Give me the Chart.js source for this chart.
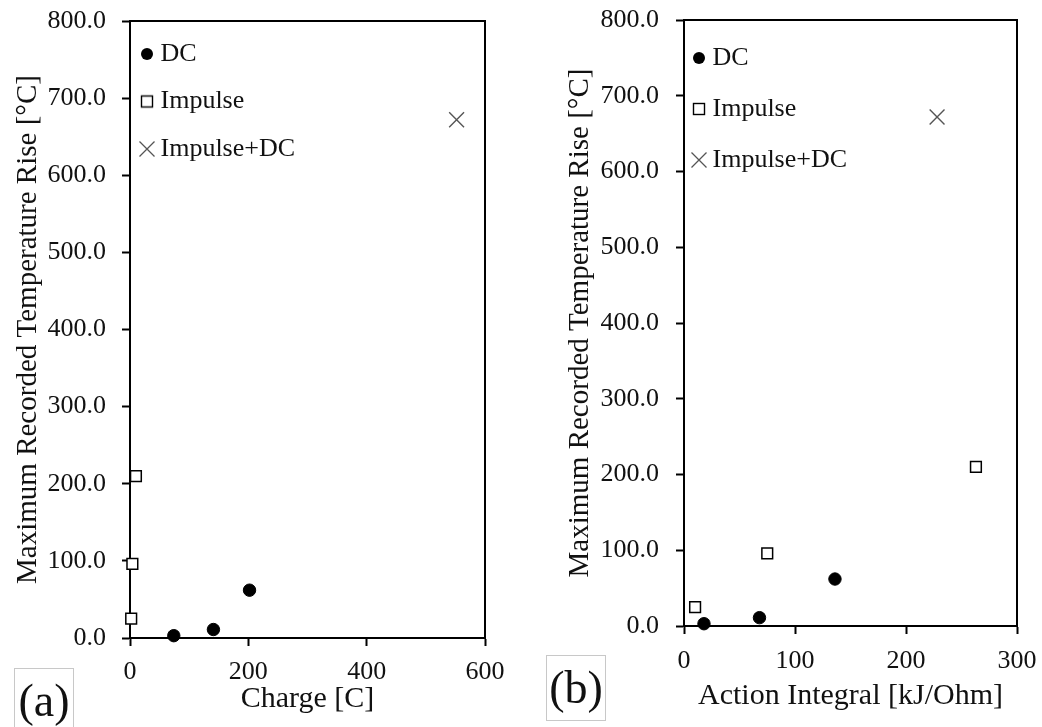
<!DOCTYPE html>
<html>
<head>
<meta charset="utf-8">
<script src="https://cdn.jsdelivr.net/npm/chart.js@4"></script>
<style>
  body { margin: 0; background: #fff; }
  #wrap { position: relative; width: 1042px; height: 727px; overflow: hidden; }
  .panel { position: absolute; top: 0; }
  .tag {
    position: absolute; width: 58px; height: 64px;
    border: 1px solid #c8c8c8;
    font-family: "Liberation Serif", "Times New Roman", serif;
    font-size: 46px; line-height: 64px; text-align: center; color: #111;
  }
</style>
</head>
<body>
<div id="wrap">
  <canvas id="chart-a" class="panel" style="left:0" width="520" height="727"></canvas>
  <canvas id="chart-b" class="panel" style="left:520px" width="522" height="727"></canvas>
  <div class="tag" style="left:14px; top:668px">(a)</div>
  <div class="tag" style="left:546px; top:655px">(b)</div>
</div>
<script>
// temperature rise (same tests in both panels)
const tempDC = [3, 11, 62];
const tempImpulse = [25, 96, 210];
const tempImpulseDC = [672];

// panel (a): charge [C]
const chargeDC = [74, 141, 202];
const chargeImpulse = [2, 4, 10];
const chargeImpulseDC = [552];

// panel (b): action integral [kJ/Ohm]
const actionDC = [18, 68, 136];
const actionImpulse = [10, 75, 263];
const actionImpulseDC = [228];

// tick labels
const tempTicks = [0, 100, 200, 300, 400, 500, 600, 700, 800];
const chargeTicks = [0, 200, 400, 600];
const actionTicks = [0, 100, 200, 300];

const seriesNames = ['DC', 'Impulse', 'Impulse+DC'];
const yTitle = 'Maximum Recorded Temperature Rise [°C]';

Chart.defaults.font.family = '"Liberation Serif", "Times New Roman", serif';
Chart.defaults.color = '#111';

function pairs(xs, ys) {
    return xs.map((x, i) => ({ x: x, y: ys[i] }));
}

// small canvases used as legend symbols (sized like the reference legend)
function legendMarker(kind) {
    const c = document.createElement('canvas');
    c.width = 18; c.height = 18;
    const g = c.getContext('2d');
    if (kind === 'circle') {
        g.fillStyle = '#000';
        g.beginPath();
        g.arc(9, 9, 6, 0, Math.PI * 2);
        g.fill();
    } else if (kind === 'rect') {
        g.fillStyle = '#fff';
        g.strokeStyle = '#000';
        g.lineWidth = 1.4;
        g.fillRect(3.5, 3.5, 11, 11);
        g.strokeRect(3.5, 3.5, 11, 11);
    } else {
        g.strokeStyle = '#555';
        g.lineWidth = 1.3;
        g.beginPath();
        g.moveTo(1.5, 1.5); g.lineTo(16.5, 16.5);
        g.moveTo(16.5, 1.5); g.lineTo(1.5, 16.5);
        g.stroke();
    }
    return c;
}
const legendMarkers = [legendMarker('circle'), legendMarker('rect'), legendMarker('cross')];

// frame on top and right of the plot area
const framePlugin = {
    id: 'frame',
    afterDraw(chart) {
        const { ctx, chartArea: a } = chart;
        ctx.save();
        ctx.strokeStyle = '#000';
        ctx.lineWidth = 2;
        ctx.beginPath();
        ctx.moveTo(a.left, a.top);
        ctx.lineTo(a.right, a.top);
        ctx.lineTo(a.right, a.bottom);
        ctx.stroke();
        ctx.restore();
    }
};

// move the in-plot legend a little
const legendNudge = {
    id: 'legendNudge',
    afterLayout(chart, args, opts) {
        if (!chart.legend) return;
        chart.legend.left -= (opts.dx || 0);
        chart.legend.top -= (opts.dy || 0);
    }
};

function makeChart(id, cfg) {
    const ctx = document.getElementById(id).getContext('2d');
    return new Chart(ctx, {
        type: 'scatter',
        data: {
            datasets: [
                {
                    label: seriesNames[0],
                    data: pairs(cfg.xDC, tempDC),
                    pointStyle: 'circle',
                    pointRadius: 6.2,
                    backgroundColor: '#000',
                    borderColor: '#000',
                    borderWidth: 1,
                    clip: false
                },
                {
                    label: seriesNames[1],
                    data: pairs(cfg.xImp, tempImpulse),
                    pointStyle: 'rect',
                    pointRadius: 7.6,
                    backgroundColor: '#fff',
                    borderColor: '#000',
                    borderWidth: 1.5,
                    clip: false
                },
                {
                    label: seriesNames[2],
                    data: pairs(cfg.xImpDC, tempImpulseDC),
                    pointStyle: 'crossRot',
                    pointRadius: 10.5,
                    backgroundColor: '#555',
                    borderColor: '#555',
                    borderWidth: 1.4,
                    clip: false
                }
            ]
        },
        options: {
            responsive: false,
            animation: false,
            events: [],
            layout: { padding: cfg.padding },
            plugins: {
                tooltip: { enabled: false },
                legend: {
                    position: 'chartArea',
                    align: 'start',
                    labels: {
                        usePointStyle: true,
                        boxWidth: 1,
                        boxHeight: 9,
                        padding: cfg.legendPad,
                        color: '#111',
                        font: { size: 26 },
                        generateLabels: chart =>
                            Chart.defaults.plugins.legend.labels.generateLabels(chart)
                                .map((item, i) => Object.assign(item, { pointStyle: legendMarkers[i], rotation: 0 }))
                    }
                },
                legendNudge: { dx: cfg.legendDx, dy: cfg.legendDy }
            },
            scales: {
                x: {
                    type: 'linear',
                    min: cfg.xTicks[0],
                    max: cfg.xTicks[cfg.xTicks.length - 1],
                    afterBuildTicks: s => { s.ticks = cfg.xTicks.map(v => ({ value: v })); },
                    afterFit: s => {
                        s.height = cfg.xHeight;
                        s.paddingLeft = 0;
                        s.paddingRight = 0;
                    },
                    grid: { display: true, drawOnChartArea: false, tickLength: 8, tickColor: '#000', tickWidth: 2 },
                    border: { color: '#000', width: 2 },
                    ticks: { padding: cfg.xTickPad, font: { size: 26 }, color: '#111', maxRotation: 0 },
                    title: {
                        display: true,
                        text: cfg.xTitle,
                        font: { size: 30 },
                        color: '#111',
                        padding: { top: 0, bottom: cfg.xTitlePad }
                    }
                },
                y: {
                    type: 'linear',
                    min: 0,
                    max: 800,
                    afterBuildTicks: s => { s.ticks = tempTicks.map(v => ({ value: v })); },
                    afterFit: s => {
                        s.width = cfg.yWidth;
                        s.paddingTop = 0;
                        s.paddingBottom = 0;
                    },
                    grid: { display: true, drawOnChartArea: false, tickLength: 8, tickColor: '#000', tickWidth: 2 },
                    border: { color: '#000', width: 2 },
                    ticks: {
                        padding: cfg.yTickPad,
                        font: { size: 26 },
                        color: '#111',
                        callback: v => Number(v).toFixed(1)
                    },
                    title: {
                        display: true,
                        text: yTitle,
                        font: { size: 29 },
                        color: '#111',
                        padding: { top: cfg.yTitlePad, bottom: 0 }
                    }
                }
            }
        },
        plugins: [framePlugin, legendNudge]
    });
}

makeChart('chart-a', {
    xDC: chargeDC, xImp: chargeImpulse, xImpDC: chargeImpulseDC,
    xTicks: chargeTicks,
    xTitle: 'Charge [C]',
    padding: { top: 21, right: 35, left: 0, bottom: 0 },
    yWidth: 130, xHeight: 89,
    yTickPad: 16, yTitlePad: 11, xTitlePad: 10, xTickPad: 11,
    legendPad: 21.5, legendDx: 5, legendDy: -19.5
});

makeChart('chart-b', {
    xDC: actionDC, xImp: actionImpulse, xImpDC: actionImpulseDC,
    xTicks: actionTicks,
    xTitle: 'Action Integral [kJ/Ohm]',
    padding: { top: 20, right: 25, left: 0, bottom: 0 },
    yWidth: 164, xHeight: 101,
    yTickPad: 17, yTitlePad: 43, xTitlePad: 13, xTickPad: 12,
    legendPad: 25, legendDx: 10.5, legendDy: -20
});
</script>
</body>
</html>
